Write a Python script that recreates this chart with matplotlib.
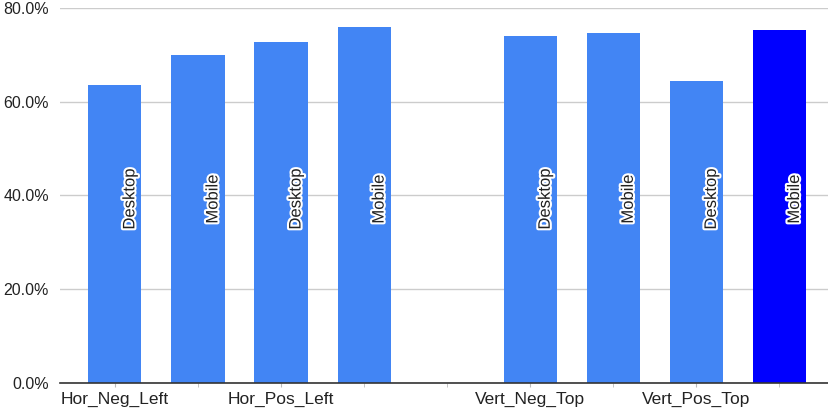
import numpy as np
import matplotlib
matplotlib.use('Agg')
import matplotlib.pyplot as plt
import matplotlib.patheffects as pe

plt.rcParams['font.family'] = ['Liberation Sans', 'DejaVu Sans']

# slot 4 is the empty gap between the two groups
slots = [0, 1, 2, 3, 5, 6, 7, 8]
values = [63.5, 69.9, 72.8, 75.9, 74.0, 74.6, 64.5, 75.3]
bar_labels = ['Desktop', 'Mobile', 'Desktop', 'Mobile',
              'Desktop', 'Mobile', 'Desktop', 'Mobile']
colors = ['#4285f4'] * 7 + ['#0000ff']
tick_slots = [0, 2, 5, 7]
tick_labels = ['Hor_Neg_Left', 'Hor_Pos_Left', 'Vert_Neg_Top', 'Vert_Pos_Top']
yticks = [0, 20, 40, 60, 80]
label_y = 39.2

fig = plt.figure(figsize=(8.29, 4.17), dpi=100)
ax = fig.add_axes([60 / 829, 34.4 / 417, 1 - 60 / 829, (382.6 - 8) / 417])

ax.bar(slots, values, width=0.64, color=colors, zorder=3)

halo = [pe.withStroke(linewidth=3, foreground='white')]
for s, lab in zip(slots, bar_labels):
    ax.text(s + 0.09, label_y, lab, rotation=90, ha='left', va='center',
            fontsize=12, color='#222222', path_effects=halo, zorder=4)

ax.set_xlim(-0.661, 8.596)
ax.set_ylim(0, 80)
ax.set_yticks(yticks)
ax.set_yticklabels([f'{v:.1f}%' for v in yticks], fontsize=11.5, color='#222222')
ax.set_xticks(range(9), minor=True)
ax.set_xticks(tick_slots)
ax.set_xticklabels(tick_labels, fontsize=12.5, color='#222222')
ax.tick_params(axis='y', length=0, pad=8)
ax.tick_params(axis='x', which='both', length=3, color='#bbbbbb', pad=4)

ax.grid(axis='y', color='#cccccc', linewidth=1, zorder=0)
for side in ['top', 'right', 'left']:
    ax.spines[side].set_visible(False)
ax.spines['bottom'].set_color('#333333')
ax.spines['bottom'].set_linewidth(1.2)
ax.spines['bottom'].set_zorder(5)

fig.savefig('out.png', dpi=100)
